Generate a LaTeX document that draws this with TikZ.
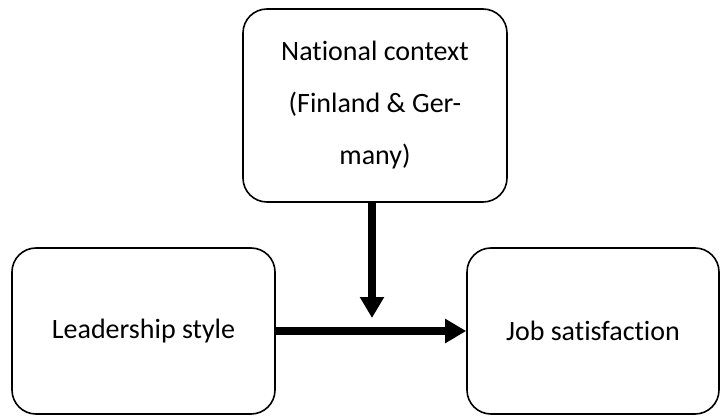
\documentclass[tikz,border=0pt]{standalone}
\usepackage{fontspec}
\setmainfont{Carlito}[Ligatures=NoCommon]
\usetikzlibrary{arrows.meta}
\begin{document}
\begin{tikzpicture}[x=1pt,y=1pt,yscale=-1,xscale=1]
        \tikzset{
          factorbox/.style={draw, line width=1.6pt, rounded corners=24pt, inner sep=0pt, align=center,
            font=\fontsize{28}{52}\selectfont},
          bigarrow/.style={line width=8pt, -{Triangle[length=21pt,width=23pt]}}
        }
        \useasboundingbox (0,0) rectangle (721,417);
        %Shape: Rounded Rect
        \node [factorbox, minimum width=264pt, minimum height=193pt] (natctx) at (375,105.5) {National context\\(Finland \& Ger-\\many)};
        %Shape: Rounded Rect
        \node [factorbox, minimum width=263pt, minimum height=166pt] (leadstyle) at (143.5,331) {Leadership style};
        %Shape: Rounded Rect
        \node [factorbox, minimum width=252pt, minimum height=166pt] (jobsat) at (593,331) {Job satisfaction};
        
        \coordinate (join) at (372,318);
        %Straight Lines
        \draw [bigarrow] (leadstyle.east) -- (jobsat.west);
        %Straight Lines
        \draw [bigarrow] (natctx.south -| join) -- (join);
\end{tikzpicture}
\end{document}
